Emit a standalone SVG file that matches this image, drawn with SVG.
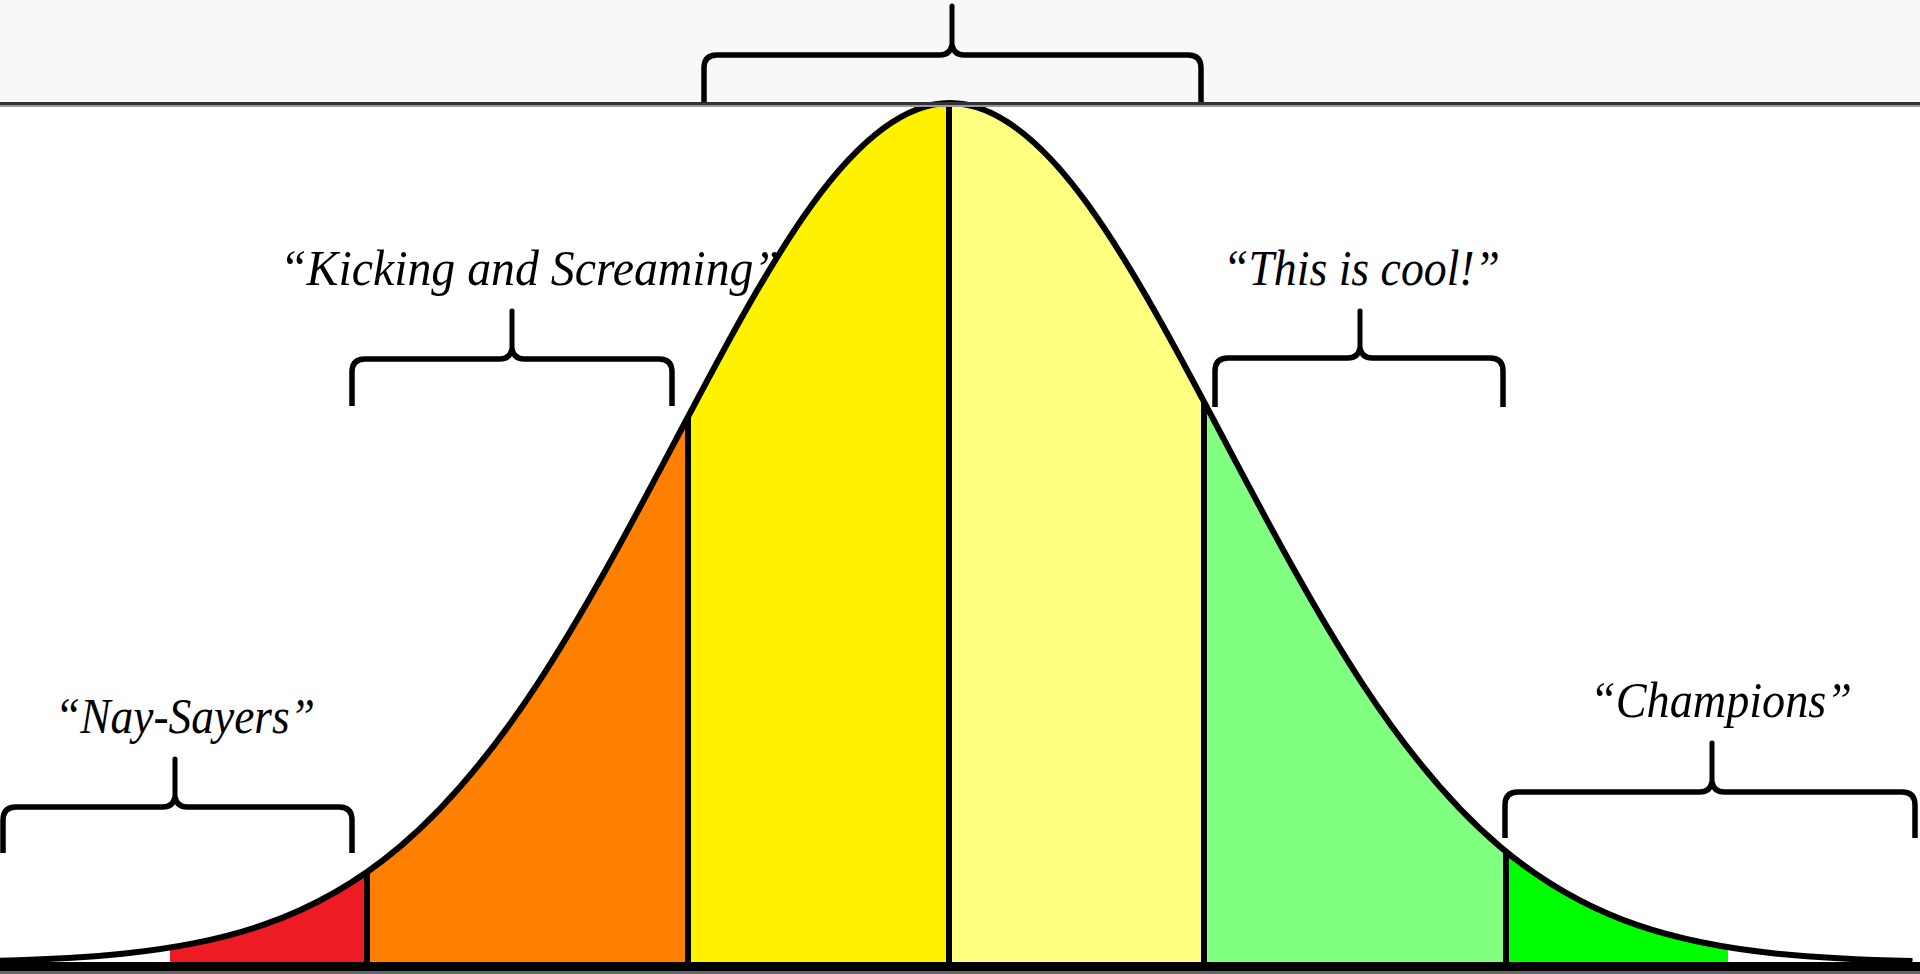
<svg xmlns="http://www.w3.org/2000/svg" width="1920" height="974" viewBox="0 0 1920 974">
  <defs>
    <style>
      .brace{fill:none;stroke:#000;stroke-width:5.5;stroke-linecap:butt;stroke-linejoin:round}
      .stem{fill:none;stroke:#000;stroke-width:5;stroke-linecap:round}
      .lbl{font-family:"Palatino Linotype","Book Antiqua",Palatino,"Liberation Serif","DejaVu Serif",serif;font-style:italic;font-size:50px;fill:#000}
      .div{stroke:#000;stroke-width:6}
    </style>
    <clipPath id="under">
      <path d="M -12.5,961.12 C 33.33,960.02 79.17,958.22 125,953.45 C 170.83,948.68 216.67,940.93 262.5,925.2 C 308.33,909.47 354.17,885.39 400,846.6 C 445.83,807.81 491.67,753.61 537.5,683.8 C 583.33,613.99 629.17,528.33 675,441.4 C 720.83,354.47 766.67,267.3 812.5,204.05 C 858.33,140.8 904.17,103 950,103 C 995.83,103 1041.67,140.8 1087.5,204.05 C 1133.33,267.3 1179.17,354.47 1225,441.4 C 1270.83,528.33 1316.67,613.99 1362.5,683.8 C 1408.33,753.61 1454.17,807.81 1500,846.6 C 1545.83,885.39 1591.67,909.47 1637.5,925.2 C 1683.33,940.93 1729.17,948.68 1775,953.45 C 1820.83,958.22 1866.67,960.02 1912.5,961.12 L 1912.5,966 L -12.5,966 Z"/>
    </clipPath>
  </defs>

  <rect x="0" y="0" width="1920" height="974" fill="#ffffff"/>
  <rect x="0" y="0" width="1920" height="103" fill="#f8f8f8"/>

  <g id="bell-curve">
    <g clip-path="url(#under)">
      <rect x="170" y="90" width="197" height="880" fill="#ed1c24"/>
      <rect x="367" y="90" width="321" height="880" fill="#ff8000"/>
      <rect x="688" y="90" width="261" height="880" fill="#fff200"/>
      <rect x="949" y="90" width="255" height="880" fill="#ffff80"/>
      <rect x="1204" y="90" width="302" height="880" fill="#80ff80"/>
      <rect x="1506" y="90" width="222" height="880" fill="#00ff00"/>
    </g>
    <line class="div" x1="367" y1="872" x2="367" y2="964"/>
    <line class="div" x1="688" y1="417" x2="688" y2="964"/>
    <line class="div" x1="949" y1="103" x2="949" y2="964"/>
    <line class="div" x1="1204" y1="402" x2="1204" y2="964"/>
    <line class="div" x1="1506" y1="851" x2="1506" y2="964"/>
    <path d="M -12.5,961.12 C 33.33,960.02 79.17,958.22 125,953.45 C 170.83,948.68 216.67,940.93 262.5,925.2 C 308.33,909.47 354.17,885.39 400,846.6 C 445.83,807.81 491.67,753.61 537.5,683.8 C 583.33,613.99 629.17,528.33 675,441.4 C 720.83,354.47 766.67,267.3 812.5,204.05 C 858.33,140.8 904.17,103 950,103 C 995.83,103 1041.67,140.8 1087.5,204.05 C 1133.33,267.3 1179.17,354.47 1225,441.4 C 1270.83,528.33 1316.67,613.99 1362.5,683.8 C 1408.33,753.61 1454.17,807.81 1500,846.6 C 1545.83,885.39 1591.67,909.47 1637.5,925.2 C 1683.33,940.93 1729.17,948.68 1775,953.45 C 1820.83,958.22 1866.67,960.02 1912.5,961.12" fill="none" stroke="#000" stroke-width="6"/>
    <rect x="0" y="962" width="1920" height="9" fill="#000"/>
    <rect x="0" y="971" width="1920" height="3" fill="#666"/>
  </g>

  <g id="top-brace">
    <path class="brace" d="M 704,106 L 704,68 Q 704,55 717,55 L 940,55 Q 950,55 952,45 M 1201,106 L 1201,68 Q 1201,55 1188,55 L 964,55 Q 954,55 952,45"/>
    <path class="stem" d="M 952,47 L 952,6"/>
  </g>

  <g id="divider-line">
    <rect x="0" y="102" width="1920" height="3" fill="#333"/>
    <rect x="0" y="105" width="1920" height="2" fill="#9a9a9a"/>
  </g>

  <g id="kicking-and-screaming">
    <text class="lbl" x="280" y="285" textLength="500" lengthAdjust="spacingAndGlyphs">“Kicking and Screaming”</text>
    <path class="brace" d="M 352,406 L 352,372 Q 352,359 365,359 L 500,359 Q 510,359 512,349 M 672,406 L 672,372 Q 672,359 659,359 L 524,359 Q 514,359 512,349"/>
    <path class="stem" d="M 512,351 L 512,311"/>
  </g>

  <g id="this-is-cool">
    <text class="lbl" x="1223" y="285" textLength="277" lengthAdjust="spacingAndGlyphs">“This is cool!”</text>
    <path class="brace" d="M 1215,407 L 1215,371 Q 1215,358 1228,358 L 1348,358 Q 1358,358 1360,348 M 1503,407 L 1503,371 Q 1503,358 1490,358 L 1372,358 Q 1362,358 1360,348"/>
    <path class="stem" d="M 1360,350 L 1360,311"/>
  </g>

  <g id="nay-sayers">
    <text class="lbl" x="55" y="733" textLength="260" lengthAdjust="spacingAndGlyphs">“Nay-Sayers”</text>
    <path class="brace" d="M 3,853 L 3,820 Q 3,807 16,807 L 163,807 Q 173,807 175,797 M 352,853 L 352,820 Q 352,807 339,807 L 187,807 Q 177,807 175,797"/>
    <path class="stem" d="M 175,799 L 175,759"/>
  </g>

  <g id="champions">
    <text class="lbl" x="1590" y="717" textLength="262" lengthAdjust="spacingAndGlyphs">“Champions”</text>
    <path class="brace" d="M 1505,838 L 1505,805 Q 1505,792 1518,792 L 1700,792 Q 1710,792 1712,782 M 1915,838 L 1915,805 Q 1915,792 1902,792 L 1724,792 Q 1714,792 1712,782"/>
    <path class="stem" d="M 1712,784 L 1712,743"/>
  </g>
</svg>
